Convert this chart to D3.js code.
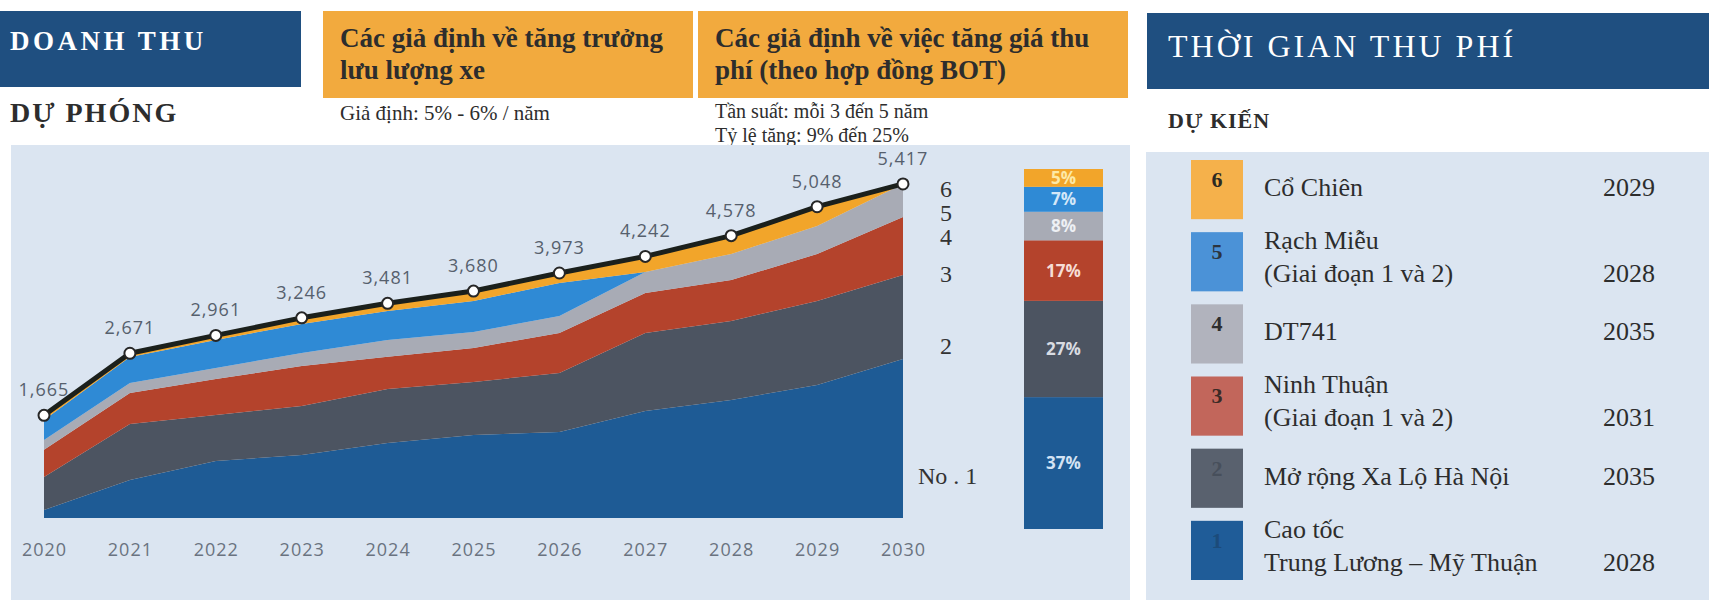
<!DOCTYPE html>
<html>
<head>
<meta charset="utf-8">
<script src="https://cdn.jsdelivr.net/npm/d3@7"></script>
<style>
  body { margin: 0; background: #fff; }
  svg { display: block; }
</style>
</head>
<body>
<svg id="chart" width="1709" height="600"></svg>
<script>
// ---- data ----
const years = [2020, 2021, 2022, 2023, 2024, 2025, 2026, 2027, 2028, 2029, 2030];
const totals = [1665, 2671, 2961, 3246, 3481, 3680, 3973, 4242, 4578, 5048, 5417];

// revenue by project, bottom layer first
const trungLuongMyThuan = [130, 616, 924, 1022, 1216, 1346, 1395, 1735, 1914, 2157, 2579];
const xaLoHaNoi = [535, 908, 746, 795, 876, 860, 957, 1265, 1281, 1362, 1362];
const ninhThuan = [440, 503, 584, 649, 524, 551, 649, 649, 665, 762, 941];
const dt741 = [160, 162, 178, 211, 271, 259, 276, 341, 422, 454, 535];
const rachMieu = [325, 420, 454, 470, 470, 503, 535, 0, 0, 0, 0];
const coChien = [75, 62, 75, 99, 124, 161, 161, 252, 296, 313, 0];

const projectNo = ["1", "2", "3", "4", "5", "6"];
const shares = [37, 27, 17, 8, 7, 5];
const projectNames = [
  ["Cao tốc", "Trung Lương – Mỹ Thuận"],
  ["Mở rộng Xa Lộ Hà Nội"],
  ["Ninh Thuận", "(Giai đoạn 1 và 2)"],
  ["DT741"],
  ["Rạch Miễu", "(Giai đoạn 1 và 2)"],
  ["Cổ Chiên"]
];
const endYears = ["2028", "2035", "2031", "2035", "2028", "2029"];
const sideTags = ["No . 1", "2", "3", "4", "5", "6"];

// ---- styles ----
const navy = "#1f4f80";
const amber = "#f2aa3e";
const panelFill = "#dbe5f1";
const areaColors = ["#1e5b95", "#4c5461", "#b4432c", "#a8abb5", "#2f8ad5", "#f2a52a"];
const swatchColors = ["#1f5c98", "#59616e", "#c2665b", "#b1b3bd", "#4b92d7", "#f5b14b"];
const swatchNumColors = ["#1c4b7a", "#474f5b", "#3a2a26", "#2e2e2e", "#2b3440", "#2e2a22"];
const barTextColors = ["#d3e3f4", "#d9dce2", "#f6ddd6", "#eef0f4", "#d4e7f8", "#fde9a6"];
const serif = "'Liberation Serif', 'DejaVu Serif', serif";
const sans = "'Open Sans', 'DejaVu Sans', sans-serif";

let svg = d3.select("#chart");

function addText(x, y, str, size, opts = {}) {
  return svg.append("text")
    .attr("x", x)
    .attr("y", y)
    .attr("fill", opts.fill || "#2d2d2d")
    .attr("font-family", opts.family || serif)
    .attr("font-size", size)
    .attr("font-weight", opts.weight || "normal")
    .attr("letter-spacing", opts.ls || 0)
    .attr("text-anchor", opts.anchor || "start")
    .text(str);
}

// ---- header blocks ----
svg.append("rect").attr("x", 0).attr("y", 11).attr("width", 301).attr("height", 76).attr("fill", navy);
addText(10, 50, "DOANH THU", 27, { fill: "#fff", weight: "bold", ls: 3.5 });
addText(10, 122, "DỰ PHÓNG", 28, { weight: "bold", ls: 2 });

svg.append("rect").attr("x", 323).attr("y", 11).attr("width", 370).attr("height", 87).attr("fill", amber);
addText(340, 47, "Các giả định về tăng trưởng", 27, { weight: "bold" });
addText(340, 79, "lưu lượng xe", 27, { weight: "bold" });
addText(340, 120, "Giả định: 5% - 6% / năm", 21);

svg.append("rect").attr("x", 698).attr("y", 11).attr("width", 430).attr("height", 87).attr("fill", amber);
addText(715, 47, "Các giả định về việc tăng giá thu", 27, { weight: "bold" });
addText(715, 79, "phí (theo hợp đồng BOT)", 27, { weight: "bold" });
addText(715, 118, "Tần suất: mỗi 3 đến 5 năm", 20);
addText(715, 142, "Tỷ lệ tăng: 9% đến 25%", 20);

svg.append("rect").attr("x", 1147).attr("y", 13).attr("width", 562).attr("height", 76).attr("fill", navy);
addText(1168, 57, "THỜI GIAN THU PHÍ", 32, { fill: "#fff", ls: 3 });
addText(1168, 128, "DỰ KIẾN", 22, { weight: "bold", ls: 1 });

// ---- panels ----
svg.append("rect").attr("x", 11).attr("y", 145).attr("width", 1119).attr("height", 455).attr("fill", panelFill);
svg.append("rect").attr("x", 1146).attr("y", 152).attr("width", 563).attr("height", 448).attr("fill", panelFill);

// ---- stacked area ----
const keys = ["p1", "p2", "p3", "p4", "p5", "p6"];
const series = [trungLuongMyThuan, xaLoHaNoi, ninhThuan, dt741, rachMieu, coChien];
const table = years.map((yr, i) => {
  let row = { year: yr };
  keys.forEach((k, j) => { row[k] = series[j][i]; });
  return row;
});
const stacked = d3.stack().keys(keys)(table);

let x = d3.scalePoint().domain(years).range([44, 903]);
let y = d3.scaleLinear().domain([0, 6000]).range([518, 148]);

let area = d3.area()
  .x((d) => x(d.data.year))
  .y0((d) => y(d[0]))
  .y1((d) => y(d[1]));

svg.append("g")
  .selectAll("path")
  .data(stacked)
  .enter()
  .append("path")
  .attr("d", area)
  .attr("fill", (d, i) => areaColors[i]);

let line = d3.line()
  .x((d, i) => x(years[i]))
  .y((d) => y(d));

svg.append("path")
  .datum(totals)
  .attr("d", line)
  .attr("fill", "none")
  .attr("stroke", "#1b201c")
  .attr("stroke-width", 5)
  .attr("stroke-linejoin", "round");

svg.append("g")
  .selectAll("circle")
  .data(totals)
  .enter()
  .append("circle")
  .attr("cx", (d, i) => x(years[i]))
  .attr("cy", (d) => y(d))
  .attr("r", 5.5)
  .attr("fill", "#fff")
  .attr("stroke", "#262626")
  .attr("stroke-width", 2);

svg.append("g")
  .selectAll("text")
  .data(totals)
  .enter()
  .append("text")
  .attr("x", (d, i) => x(years[i]))
  .attr("y", (d) => y(d) - 19)
  .attr("text-anchor", "middle")
  .attr("font-family", sans)
  .attr("font-size", 18)
  .attr("letter-spacing", 1)
  .attr("fill", "#56606d")
  .text((d) => d3.format(",")(d));

let xAxis = svg.append("g")
  .attr("transform", "translate(0,518)")
  .call(d3.axisBottom(x).tickSize(0).tickPadding(25));
xAxis.select(".domain").remove();
xAxis.selectAll("text")
  .attr("font-family", sans)
  .attr("font-size", 18)
  .attr("letter-spacing", 1)
  .attr("fill", "#6a7380");

// ---- side tags next to the areas ----
const tagY = [484, 354, 282, 245, 221, 197];
sideTags.forEach((t, i) => {
  addText(i === 0 ? 918 : 940, tagY[i], t, 24, { fill: "#333" });
});

// ---- share bar ----
let yBar = d3.scaleLinear().domain([0, d3.sum(shares)]).range([529, 169]);
const cum = [0, ...d3.cumsum(shares)];

svg.append("g")
  .selectAll("rect")
  .data(shares)
  .enter()
  .append("rect")
  .attr("x", 1024)
  .attr("width", 79)
  .attr("y", (d, i) => yBar(cum[i + 1]))
  .attr("height", (d, i) => yBar(cum[i]) - yBar(cum[i + 1]))
  .attr("fill", (d, i) => areaColors[i]);

svg.append("g")
  .selectAll("text")
  .data(shares)
  .enter()
  .append("text")
  .attr("x", 1063.5)
  .attr("y", (d, i) => (yBar(cum[i]) + yBar(cum[i + 1])) / 2 + 6)
  .attr("text-anchor", "middle")
  .attr("font-family", sans)
  .attr("font-weight", "bold")
  .attr("font-size", 17)
  .attr("fill", (d, i) => barTextColors[i])
  .text((d) => d + "%");

// ---- legend: collection period ----
const legendOrder = projectNo.slice().reverse();
let rowBand = d3.scaleBand().domain(legendOrder).range([160, 580]).paddingInner(0.18);

legendOrder.forEach((no) => {
  const i = projectNo.indexOf(no);
  const top = rowBand(no);
  const h = rowBand.bandwidth();
  svg.append("rect")
    .attr("x", 1191)
    .attr("y", top)
    .attr("width", 52)
    .attr("height", h)
    .attr("fill", swatchColors[i]);
  addText(1217, top + 27, no, 22, { weight: "bold", anchor: "middle", fill: swatchNumColors[i] });

  const lines = projectNames[i];
  let lastY;
  if (lines.length === 1) {
    lastY = top + 36;
    addText(1264, lastY, lines[0], 26);
  } else {
    addText(1264, top + 17, lines[0], 26);
    lastY = top + 50;
    addText(1264, lastY, lines[1], 26);
  }
  addText(1603, lastY, endYears[i], 26);
});
</script>
</body>
</html>
